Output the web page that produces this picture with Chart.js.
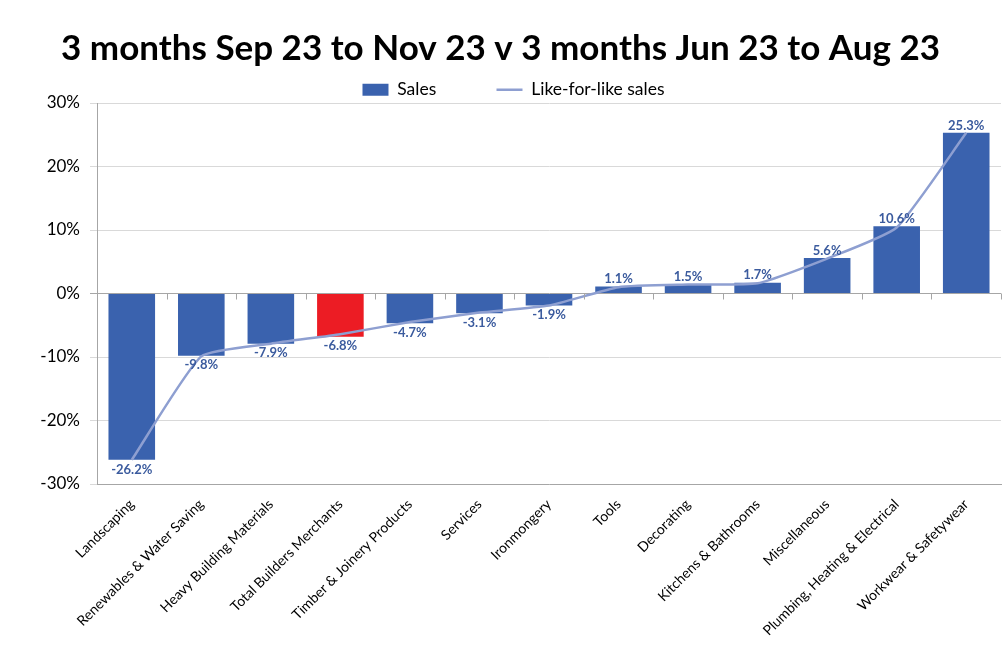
<!DOCTYPE html>
<html>
<head>
<meta charset="utf-8">
<script src="https://cdn.jsdelivr.net/npm/chart.js@4.4.0/dist/chart.umd.min.js"></script>
<style>
  html, body { margin: 0; padding: 0; background: #fff; }
  #wrap { width: 1003px; height: 652px; }
</style>
</head>
<body>
<div id="wrap"><canvas id="salesChart"></canvas></div>
<script>
const categories = [
    'Landscaping',
    'Renewables & Water Saving',
    'Heavy Building Materials',
    'Total Builders Merchants',
    'Timber & Joinery Products',
    'Services',
    'Ironmongery',
    'Tools',
    'Decorating',
    'Kitchens & Bathrooms',
    'Miscellaneous',
    'Plumbing, Heating & Electrical',
    'Workwear & Safetywear'
];
const salesValues = [-26.2, -9.8, -7.9, -6.8, -4.7, -3.1, -1.9, 1.1, 1.5, 1.7, 5.6, 10.6, 25.3];
const likeForLikeValues = [-26.2, -9.9, -7.9, -6.4, -4.5, -3.0, -1.9, 1.0, 1.4, 1.6, 5.5, 10.4, 25.3];
const yTicks = [-30, -20, -10, 0, 10, 20, 30];

const barBlue = '#3A62AE';
const barRed = '#EC1C24';
const labelBlue = '#3B5B9E';
const fontName = 'Lato, "Open Sans", sans-serif';

// bar value labels, above positive bars and below negative ones
const valueLabels = {
    id: 'valueLabels',
    afterDatasetsDraw(chart) {
        const ctx = chart.ctx;
        const meta = chart.getDatasetMeta(1);
        ctx.save();
        ctx.font = 'bold 13px ' + fontName;
        ctx.fillStyle = labelBlue;
        ctx.textAlign = 'center';
        meta.data.forEach((bar, i) => {
            const v = salesValues[i];
            if (v >= 0) {
                ctx.textBaseline = 'bottom';
                ctx.fillText(v.toFixed(1) + '%', bar.x, bar.y - 1);
            } else {
                ctx.textBaseline = 'top';
                ctx.fillText(v.toFixed(1) + '%', bar.x, bar.y + 3);
            }
        });
        ctx.restore();
    }
};

// small tick marks between categories along the 0% line
const zeroTicks = {
    id: 'zeroTicks',
    afterDraw(chart) {
        const ctx = chart.ctx;
        const x = chart.scales.x;
        const y0 = chart.scales.y.getPixelForValue(0);
        ctx.save();
        ctx.strokeStyle = '#A6A6A6';
        ctx.lineWidth = 1;
        ctx.beginPath();
        for (let i = 0; i <= categories.length; i++) {
            const px = Math.round(x.getPixelForValue(i - 0.5)) + 0.5;
            ctx.moveTo(px, y0);
            ctx.lineTo(px, y0 + 6);
        }
        ctx.stroke();
        ctx.restore();
    }
};

// the legend sits a little right of centre in the original
const legendShift = {
    id: 'legendShift',
    afterLayout(chart) {
        chart.legend.left += 13;
        chart.legend.right += 13;
    }
};

const config = {
    data: {
        labels: categories,
        datasets: [{
            type: 'line',
            label: 'Like-for-like sales',
            data: likeForLikeValues,
            borderColor: '#8E9FD1',
            backgroundColor: '#8E9FD1',
            borderWidth: 2.5,
            pointRadius: 0,
            pointStyle: 'line',
            tension: 0.16,
            order: 0
        }, {
            type: 'bar',
            label: 'Sales',
            data: salesValues,
            backgroundColor: categories.map(c => c === 'Total Builders Merchants' ? barRed : barBlue),
            barPercentage: 0.67,
            categoryPercentage: 1,
            pointStyle: 'rect',
            order: 1
        }]
    },
    options: {
        responsive: true,
        maintainAspectRatio: false,
        animation: false,
        layout: { padding: { left: 0, right: 2, top: 0, bottom: 0 } },
        plugins: {
            title: {
                display: true,
                text: '3 months Sep 23 to Nov 23 v 3 months Jun 23 to Aug 23',
                color: '#000',
                font: { family: fontName, size: 35, weight: 'bold' },
                padding: { top: 28, bottom: 9 }
            },
            legend: {
                display: true,
                reverse: true,
                maxHeight: 24,
                labels: {
                    color: '#000',
                    font: { family: fontName, size: 17.5 },
                    usePointStyle: true,
                    pointStyleWidth: 26,
                    boxHeight: 12,
                    padding: 2,
                    generateLabels(chart) {
                        const items = Chart.defaults.plugins.legend.labels.generateLabels(chart);
                        items.forEach(it => {
                            if (it.text === 'Sales') {
                                it.fillStyle = barBlue;
                                it.strokeStyle = barBlue;
                                it.lineWidth = 0;
                                // Excel leaves a wide gap between the two legend entries
                                it.text = 'Sales' + ' '.repeat(13);
                            }
                        });
                        return items;
                    }
                }
            },
            tooltip: { enabled: false }
        },
        scales: {
            x: {
                grid: { display: false },
                border: { color: '#A6A6A6' },
                ticks: {
                    color: '#000',
                    font: { family: fontName, size: 14 },
                    maxRotation: 45,
                    minRotation: 45,
                    autoSkip: false,
                    padding: 4
                },
                afterFit(scale) { scale.height = 168; }
            },
            y: {
                min: -30,
                max: 30,
                afterBuildTicks(scale) {
                    scale.ticks = yTicks.map(v => ({ value: v }));
                },
                grid: {
                    color: ctx => (ctx.tick && ctx.tick.value === 0) ? '#A6A6A6' : '#D9D9D9',
                    tickLength: 7
                },
                border: { color: '#A6A6A6' },
                ticks: {
                    color: '#000',
                    font: { family: fontName, size: 17 },
                    padding: 10,
                    callback: v => v + '%'
                },
                afterFit(scale) { scale.width = 97; }
            }
        }
    },
    plugins: [valueLabels, zeroTicks, legendShift]
};

new Chart(document.getElementById('salesChart'), config);
</script>
</body>
</html>
